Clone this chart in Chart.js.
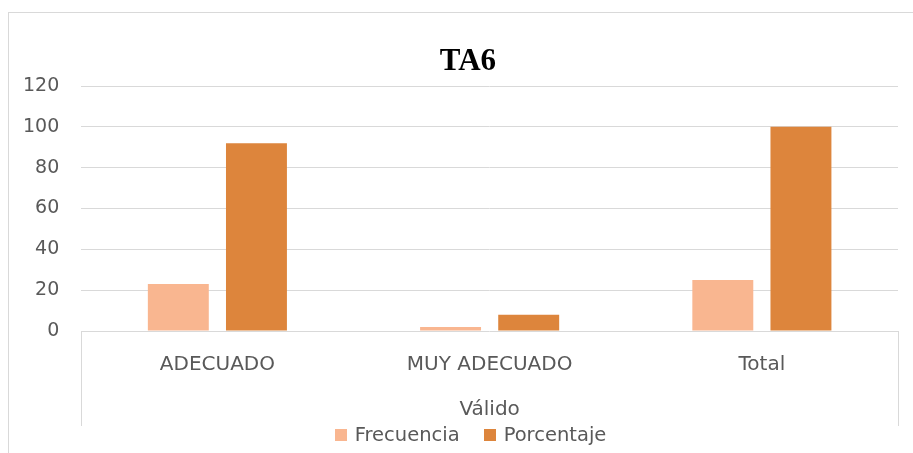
<!DOCTYPE html>
<html>
<head>
<meta charset="utf-8">
<script src="https://cdn.jsdelivr.net/npm/chart.js@4/dist/chart.umd.min.js"></script>
<style>
  body { margin: 0; background: #fff; overflow: hidden; font-family: 'DejaVu Sans', sans-serif; }
  #frame { position: absolute; left: 8px; top: 12px; width: 1000px; height: 600px; border: 1px solid #d9d9d9; }
  #wrap { position: absolute; left: 0; top: 0; width: 913px; height: 453px; }
  #title { position: absolute; left: 0; top: 42px; width: 936px; text-align: center; font: bold 31px 'Liberation Serif', serif; line-height: 36px; color: #000; }
  #legend { position: absolute; left: 0; top: 423px; width: 941px; display: flex; justify-content: center; gap: 24px; font-size: 19.5px; color: #595959; line-height: 24px; }
  #legend .item { display: flex; align-items: center; }
  #legend .box { width: 12px; height: 12px; margin-right: 8px; }
</style>
</head>
<body>
<div id="frame"></div>
<div id="wrap"><canvas id="ta6Chart" width="913" height="453"></canvas></div>
<div id="title">TA6</div>
<div id="legend"></div>
<script>
const categories = ['ADECUADO', 'MUY ADECUADO', 'Total'];
const frecuencia = [23, 2, 25];
const porcentaje = [92, 8, 100];
const groupLabel = 'Válido';

// líneas verticales del eje de categorías agrupado (estilo Excel)
const groupLines = {
    id: 'groupLines',
    afterDraw(chart) {
        const { ctx, chartArea } = chart;
        const x = chart.scales.x;
        ctx.save();
        ctx.strokeStyle = '#d9d9d9';
        ctx.lineWidth = 1;
        ctx.beginPath();
        [chartArea.left, chartArea.right].forEach(px => {
            ctx.moveTo(Math.round(px) + 0.5, chartArea.bottom);
            ctx.lineTo(Math.round(px) + 0.5, x.bottom + 4);
        });
        ctx.stroke();
        ctx.restore();
    }
};

const ctx = document.getElementById('ta6Chart').getContext('2d');
const ta6Chart = new Chart(ctx, {
    type: 'bar',
    data: {
        labels: categories,
        datasets: [
            { label: 'Frecuencia', data: frecuencia, backgroundColor: '#f9b690' },
            { label: 'Porcentaje', data: porcentaje, backgroundColor: '#dd853c' }
        ]
    },
    options: {
        responsive: false,
        animation: false,
        layout: { padding: { left: 1, right: 15, top: 86, bottom: 31 } },
        categoryPercentage: 0.574,
        barPercentage: 0.78,
        plugins: {
            title: { display: false },
            legend: { display: false },
            tooltip: { enabled: false }
        },
        scales: {
            x: {
                grid: { display: false },
                border: { display: false },
                ticks: { color: '#595959', font: { family: 'DejaVu Sans', size: 20 }, padding: 14 },
                title: {
                    display: true,
                    text: groupLabel,
                    color: '#595959',
                    font: { family: 'DejaVu Sans', size: 20 },
                    padding: { top: 7, bottom: 0 }
                }
            },
            y: {
                min: 0,
                max: 120,
                grid: { color: '#d9d9d9', drawTicks: false },
                border: { display: false },
                ticks: { stepSize: 20, color: '#595959', font: { family: 'DejaVu Sans', size: 19 }, padding: 22 }
            }
        }
    },
    plugins: [groupLines]
});

// leyenda en HTML (igual que Excel: cuadro + texto)
const legendEl = document.getElementById('legend');
ta6Chart.data.datasets.forEach(ds => {
    const item = document.createElement('div');
    item.className = 'item';
    const box = document.createElement('span');
    box.className = 'box';
    box.style.background = ds.backgroundColor;
    const txt = document.createElement('span');
    txt.textContent = ds.label;
    item.appendChild(box);
    item.appendChild(txt);
    legendEl.appendChild(item);
});
</script>
</body>
</html>
